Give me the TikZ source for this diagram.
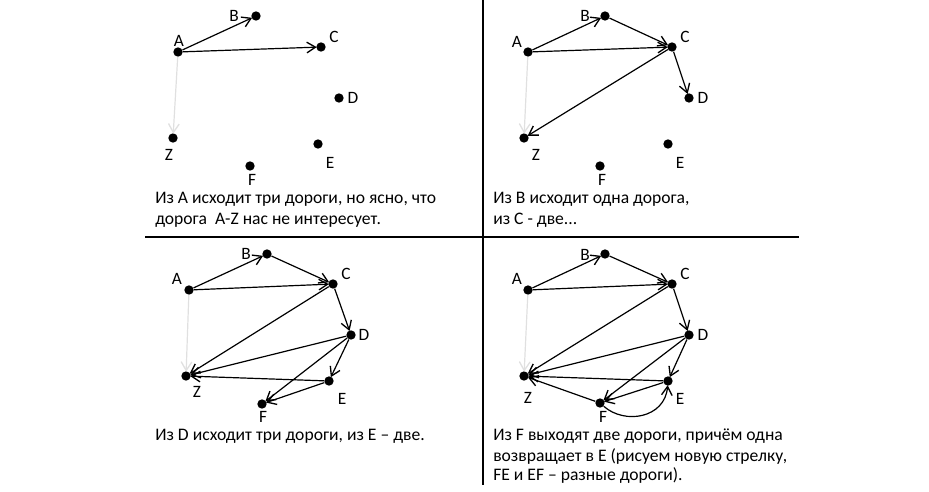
\documentclass[tikz,border=0pt]{standalone}
\usepackage{fontspec}
\setmainfont{Carlito}
\usetikzlibrary{arrows.meta}
\tikzset{
  dot/.style={circle,fill=black,inner sep=0pt,minimum size=7pt},
  lbl/.style={font=\fontsize{13pt}{15pt}\selectfont,inner sep=0pt},
  txt/.style={font=\fontsize{13.2pt}{15pt}\selectfont,inner sep=0pt,anchor=base west},
  road/.style={line width=0.9pt,-{Straight Barb[length=6.5pt,width=8pt,line width=1pt]},shorten >=-0.5pt},
  faint/.style={road,draw=black!12},
  divider/.style={line width=1pt}
}
\begin{document}
\begin{tikzpicture}[x=0.75pt,y=-0.75pt]
\useasboundingbox (0,0) rectangle (929,492);
% dividers
\coordinate (h1) at (145,237); \coordinate (h2) at (799,237);
\coordinate (v1) at (483,0); \coordinate (v2) at (483,485);
\draw[divider] (h1) -- (h2);
\draw[divider] (v1) -- (v2);

% ---------- Quadrant 1 ----------
\node[dot] (A1) at (178,52) {}; \node[dot] (B1) at (256,16) {};
\node[dot] (C1) at (321,47) {}; \node[dot] (D1) at (339,98) {};
\node[dot] (Z1) at (173,138) {}; \node[dot] (E1) at (318,144) {};
\node[dot] (F1) at (250,166) {};
\node[lbl] (lA1) at (179,41) {A}; \node[lbl] (lB1) at (234,16) {B};
\node[lbl] (lC1) at (334,37) {C}; \node[lbl] (lD1) at (353,98) {D};
\node[lbl] (lZ1) at (169,155) {Z}; \node[lbl] (lE1) at (330,163) {E};
\node[lbl] (lF1) at (252,180) {F};
\draw[faint] (A1) -- (Z1);
\draw[road] (A1) -- (B1);
\draw[road] (A1) -- (C1);
\node[txt] (t1a) at (155,204) {Из А исходит три дороги, но ясно, что};
\node[txt] (t1b) at (155,224) {дорога\ \ A-Z нас не интересует.};

% ---------- Quadrant 2 ----------
\node[dot] (A2) at (528,52) {}; \node[dot] (B2) at (605,16) {};
\node[dot] (C2) at (672,47) {}; \node[dot] (D2) at (689,98) {};
\node[dot] (Z2) at (524,138) {}; \node[dot] (E2) at (668,144) {};
\node[dot] (F2) at (600,166) {};
\node[lbl] (lA2) at (517,42) {A}; \node[lbl] (lB2) at (585,16) {B};
\node[lbl] (lC2) at (685,37) {C}; \node[lbl] (lD2) at (703,98) {D};
\node[lbl] (lZ2) at (536,155) {Z}; \node[lbl] (lE2) at (680,163) {E};
\node[lbl] (lF2) at (602,180) {F};
\draw[faint] (A2) -- (Z2);
\draw[road] (A2) -- (B2);
\draw[road] (A2) -- (C2);
\draw[road] (B2) -- (C2);
\draw[road] (C2) -- (D2);
\draw[road] (C2) -- (Z2);
\node[txt] (t2a) at (493,204) {Из В исходит одна дорога,};
\node[txt] (t2b) at (493,224) {из С - две...};

% ---------- Quadrant 3 ----------
\node[dot] (A3) at (189,290) {}; \node[dot] (B3) at (267,254) {};
\node[dot] (C3) at (333,284) {}; \node[dot] (D3) at (351,335) {};
\node[dot] (Z3) at (186,376) {}; \node[dot] (E3) at (329,381) {};
\node[dot] (F3) at (262,404) {};
\node[lbl] (lA3) at (177,279) {A}; \node[lbl] (lB3) at (246,254) {B};
\node[lbl] (lC3) at (346,274) {C}; \node[lbl] (lD3) at (364,335) {D};
\node[lbl] (lZ3) at (197,392) {Z}; \node[lbl] (lE3) at (342,399) {E};
\node[lbl] (lF3) at (263,417) {F};
\draw[faint] (A3) -- (Z3);
\draw[road] (A3) -- (B3);
\draw[road] (A3) -- (C3);
\draw[road] (B3) -- (C3);
\draw[road] (C3) -- (D3);
\draw[road] (C3) -- (Z3);
\draw[road] (D3) -- (Z3);
\draw[road] (D3) -- (E3);
\draw[road] (D3) -- (F3);
\draw[road] (E3) -- (Z3);
\draw[road] (E3) -- (F3);
\node[txt] (t3a) at (155,440) {Из D исходит три дороги, из Е – две.};

% ---------- Quadrant 4 ----------
\node[dot] (A4) at (528,290) {}; \node[dot] (B4) at (605,254) {};
\node[dot] (C4) at (672,284) {}; \node[dot] (D4) at (689,335) {};
\node[dot] (Z4) at (524,376) {}; \node[dot] (E4) at (668,381) {};
\node[dot] (F4) at (600,403) {};
\node[lbl] (lA4) at (517,279) {A}; \node[lbl] (lB4) at (585,255) {B};
\node[lbl] (lC4) at (685,274) {C}; \node[lbl] (lD4) at (703,335) {D};
\node[lbl] (lZ4) at (528,398) {Z}; \node[lbl] (lE4) at (680,399) {E};
\node[lbl] (lF4) at (603,417) {F};
\draw[faint] (A4) -- (Z4);
\draw[road] (A4) -- (B4);
\draw[road] (A4) -- (C4);
\draw[road] (B4) -- (C4);
\draw[road] (C4) -- (D4);
\draw[road] (C4) -- (Z4);
\draw[road] (D4) -- (Z4);
\draw[road] (D4) -- (E4);
\draw[road] (D4) -- (F4);
\draw[road] (E4) -- (Z4);
\draw[road] (E4) -- (F4);
\draw[road] (F4) -- (Z4);
\draw[road] (F4) .. controls (625,425) and (665,418) .. (E4);
\node[txt] (t4a) at (493,440) {Из F выходят две дороги, причём одна};
\node[txt] (t4b) at (493,461) {возвращает в Е (рисуем новую стрелку,};
\node[txt] (t4c) at (493,480) {FE и EF – разные дороги).};
\end{tikzpicture}
\end{document}
